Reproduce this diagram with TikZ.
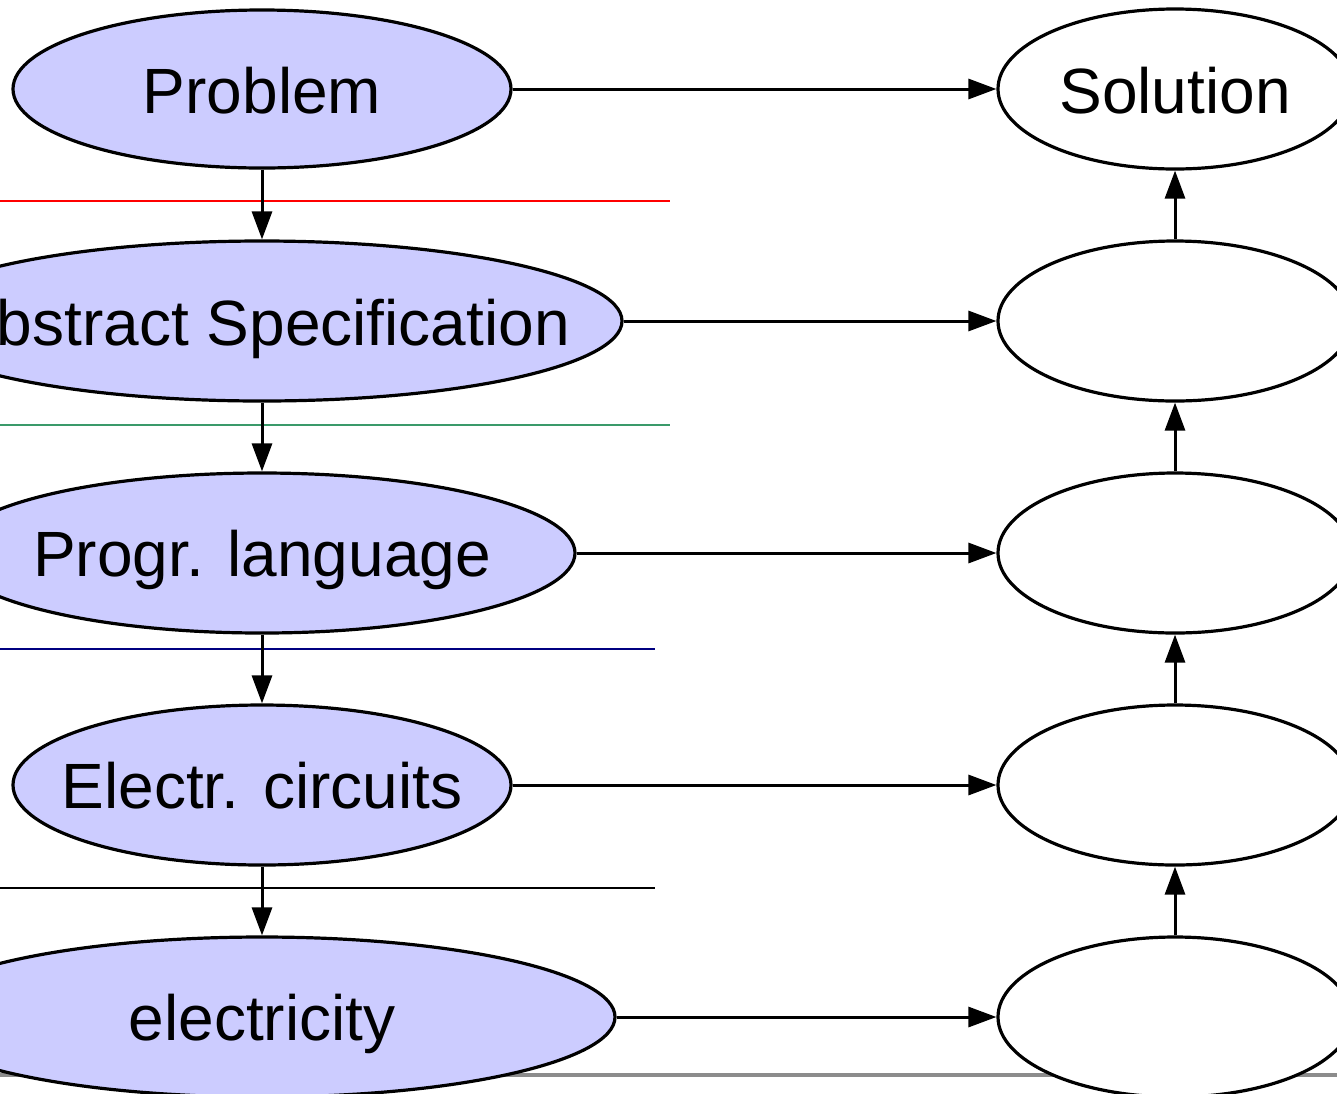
\documentclass[tikz,border=0pt]{standalone}
\usepackage{fontspec}
\setmainfont{Liberation Sans}
\usetikzlibrary{shapes.geometric,arrows.meta}
\definecolor{lev}{HTML}{CCCCFF}
\definecolor{sep2}{HTML}{3A9A6A}
\definecolor{sep3}{HTML}{000080}
\tikzset{
  level/.style={ellipse,draw=black,line width=2.4pt,fill=lev,inner sep=0pt,
    minimum height=120pt},
  result/.style={ellipse,draw=black,line width=2.4pt,fill=white,inner sep=0pt,
    minimum width=265.5pt,minimum height=120pt},
  caption/.style={anchor=base,inner sep=0pt,font=\fontsize{48}{58}\selectfont},
  arr/.style={line width=2.25pt,-{Triangle[length=21pt,width=15pt]}},
  sepline/.style={line width=1.2pt}
}
\begin{document}
\begin{tikzpicture}[x=0.75pt,y=-0.75pt]
\useasboundingbox (0,0) rectangle (1337,1093);
\clip (0,0) rectangle (1337,1093);
% footer rule
\draw[gray!90,line width=2.4pt] (0,1075) -- (1337,1075);
% layer separators
\draw[sepline,red] (0,201) -- (670,201);
\draw[sepline,sep2] (0,425) -- (670,425);
\draw[sepline,sep3] (0,649) -- (655,649);
\draw[sepline,black] (0,888) -- (655,888);
% abstraction levels
\node[level,minimum width=373.5pt,minimum height=118.5pt] (p) at (262,89) {};
\node[level,minimum width=540pt] (a) at (262,321) {};
\node[level,minimum width=469.5pt] (g) at (262,553) {};
\node[level,minimum width=373.5pt] (c) at (262,785) {};
\node[level,minimum width=529.5pt] (e) at (262,1017) {};
\node[caption] (pt) at (262,113) {Problem};
\node[caption] (at) at (262,345) {Abstract Specification};
\node[caption] (gt) at (262,576) {Progr. language};
\node[caption] (ct) at (262,808) {Electr. circuits};
\node[caption] (et) at (262,1040) {electricity};
% results
\node[result] (s1) at (1175,89) {};
\node[result] (s2) at (1175,321) {};
\node[result] (s3) at (1175,553) {};
\node[result] (s4) at (1175,785) {};
\node[result] (s5) at (1175,1017) {};
\node[caption] (s1t) at (1175,113) {Solution};
% downward refinement
\draw[arr] (p.south) -- (a.north);
\draw[arr] (a.south) -- (g.north);
\draw[arr] (g.south) -- (c.north);
\draw[arr] (c.south) -- (e.north);
% horizontal mappings
\draw[arr] (p.east) -- (s1.west);
\draw[arr] (a.east) -- (s2.west);
\draw[arr] (g.east) -- (s3.west);
\draw[arr] (c.east) -- (s4.west);
\draw[arr] (e.east) -- (s5.west);
% upward composition
\draw[arr] (s2.north) -- (s1.south);
\draw[arr] (s3.north) -- (s2.south);
\draw[arr] (s4.north) -- (s3.south);
\draw[arr] (s5.north) -- (s4.south);
\end{tikzpicture}
\end{document}
